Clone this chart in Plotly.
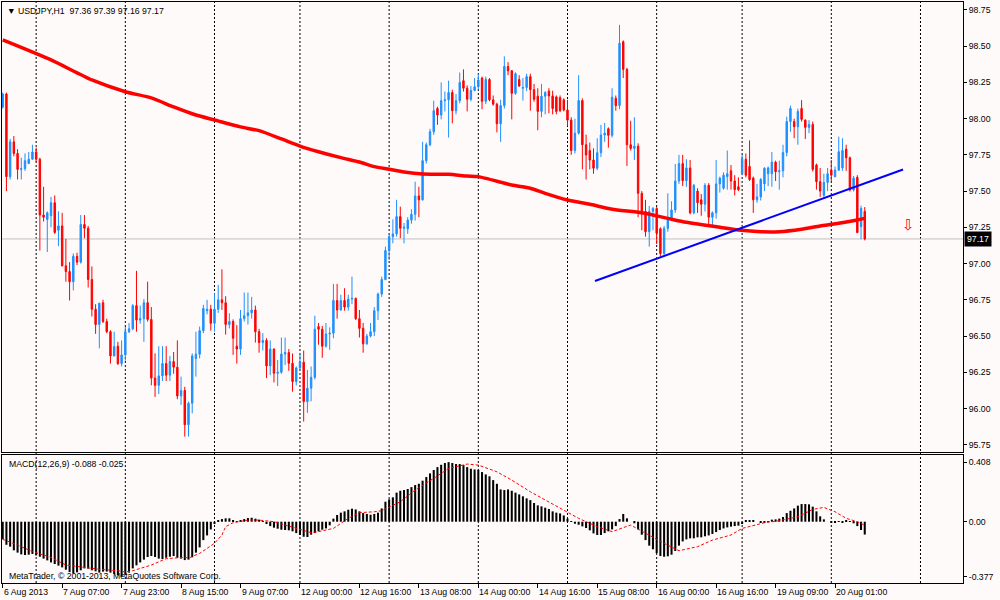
import pandas as pd
import plotly.graph_objects as go

symbol = "USDJPY,H1"
# trading sessions (start, number of hourly bars)
sessions = [("2013-08-06 15:00", 9), ("2013-08-07 00:00", 24), ("2013-08-08 00:00", 24),
            ("2013-08-09 00:00", 23), ("2013-08-12 00:00", 24), ("2013-08-13 00:00", 24),
            ("2013-08-14 00:00", 24), ("2013-08-15 00:00", 24), ("2013-08-16 00:00", 23),
            ("2013-08-19 00:00", 24), ("2013-08-20 00:00", 10)]

opens = [98.08, 98.17, 97.60, 97.84, 97.76, 97.65, 97.655, 97.69, 97.72, 97.77,
         97.72, 97.335, 97.305, 97.33, 97.42, 97.23, 97.26, 96.985, 96.945, 96.875,
         97.05, 97.01, 97.27, 97.244, 96.89, 96.685, 96.58, 96.73, 96.60, 96.53,
         96.363, 96.43, 96.31, 96.37, 96.53, 96.55, 96.71, 96.61, 96.62, 96.73,
         96.615, 96.21, 96.16, 96.225, 96.31, 96.23, 96.324, 96.285, 96.087, 96.124,
         95.888, 96.036, 96.345, 96.375, 96.537, 96.675, 96.685, 96.588, 96.685, 96.75,
         96.73, 96.58, 96.60, 96.43, 96.41, 96.62, 96.64, 96.66, 96.68, 96.53,
         96.455, 96.47, 96.294, 96.41, 96.243, 96.25, 96.376, 96.386, 96.312, 96.186,
         96.28, 96.32, 96.048, 96.14, 96.215, 96.565, 96.547, 96.43, 96.514, 96.52,
         96.745, 96.68, 96.745, 96.70, 96.755, 96.76, 96.62, 96.553, 96.446, 96.50,
         96.53, 96.675, 96.79, 96.89, 97.09, 97.186, 97.205, 97.324, 97.244, 97.24,
         97.30, 97.34, 97.467, 97.44, 97.71, 97.82, 97.91, 98.07, 98.025, 98.124,
         98.13, 98.18, 98.055, 98.124, 98.262, 98.21, 98.134, 98.195, 98.22, 98.28,
         98.12, 98.27, 98.13, 98.10, 97.965, 98.09, 98.36, 98.33, 98.175, 98.27,
         98.21, 98.215, 98.29, 98.20, 98.155, 98.05, 98.155, 98.19, 98.157, 98.15,
         98.145, 98.13, 98.06, 97.99, 97.78, 97.90, 98.125, 97.82, 97.78, 97.715,
         97.658, 97.765, 97.887, 97.93, 97.885, 98.14, 98.09, 98.53, 98.34, 97.82,
         97.795, 97.81, 97.485, 97.36, 97.22, 97.36, 97.38, 97.24, 97.07, 97.243,
         97.30, 97.37, 97.57, 97.69, 97.572, 97.66, 97.35, 97.50, 97.44, 97.41,
         97.54, 97.32, 97.35, 97.55, 97.52, 97.60, 97.64, 97.57, 97.53, 97.62,
         97.72, 97.67, 97.59, 97.44, 97.46, 97.55, 97.62, 97.62, 97.70, 97.634,
         97.64, 97.766, 97.98, 97.98, 97.945, 98.07, 97.99, 97.94, 97.96, 97.68,
         97.565, 97.47, 97.56, 97.645, 97.60, 97.645, 97.66, 97.79, 97.73, 97.508,
         97.595, 97.255, 97.36]

highs = [98.18, 98.18, 97.86, 97.88, 97.79, 97.73, 97.76, 97.77, 97.82, 97.80,
         97.73, 97.53, 97.36, 97.46, 97.47, 97.36, 97.35, 97.17, 97.01, 97.07,
         97.075, 97.335, 97.335, 97.26, 96.98, 96.72, 96.73, 96.75, 96.62, 96.54,
         96.53, 96.46, 96.47, 96.565, 96.59, 96.72, 96.95, 96.71, 96.755, 96.875,
         96.70, 96.38, 96.43, 96.43, 96.43, 96.363, 96.39, 96.47, 96.22, 96.15,
         96.048, 96.38, 96.53, 96.565, 96.715, 96.75, 96.715, 96.795, 96.853, 96.96,
         96.775, 96.657, 96.615, 96.575, 96.68, 96.80, 96.80, 96.77, 96.71, 96.55,
         96.52, 96.485, 96.47, 96.415, 96.335, 96.49, 96.49, 96.41, 96.38, 96.29,
         96.38, 96.40, 96.266, 96.29, 96.64, 96.59, 96.57, 96.59, 96.56, 96.86,
         96.86, 96.785, 96.83, 96.785, 96.91, 96.765, 96.68, 96.59, 96.515, 96.59,
         96.70, 96.80, 96.91, 97.117, 97.205, 97.305, 97.44, 97.393, 97.28, 97.32,
         97.375, 97.565, 97.53, 97.84, 97.835, 97.93, 98.124, 98.083, 98.25, 98.187,
         98.262, 98.20, 98.17, 98.318, 98.34, 98.23, 98.226, 98.28, 98.31, 98.29,
         98.29, 98.28, 98.16, 98.11, 98.13, 98.43, 98.39, 98.336, 98.32, 98.30,
         98.28, 98.31, 98.31, 98.24, 98.21, 98.24, 98.19, 98.21, 98.193, 98.16,
         98.16, 98.14, 98.13, 98.01, 98.00, 98.30, 98.14, 97.89, 97.835, 97.795,
         97.865, 97.957, 97.97, 97.94, 98.21, 98.16, 98.647, 98.54, 98.35, 97.986,
         98.01, 97.83, 97.50, 97.44, 97.398, 97.39, 97.39, 97.25, 97.26, 97.485,
         97.43, 97.687, 97.75, 97.75, 97.72, 97.715, 97.55, 97.52, 97.48, 97.555,
         97.555, 97.36, 97.715, 97.60, 97.63, 97.78, 97.68, 97.61, 97.595, 97.75,
         97.76, 97.85, 97.60, 97.55, 97.59, 97.665, 97.67, 97.77, 97.71, 97.71,
         97.82, 98.014, 98.09, 98.00, 98.07, 98.128, 97.995, 97.99, 97.98, 97.69,
         97.66, 97.62, 97.66, 97.715, 97.67, 97.876, 97.865, 97.82, 97.738, 97.605,
         97.61, 97.40, 97.39]

lows = [98.07, 97.50, 97.58, 97.74, 97.58, 97.58, 97.64, 97.69, 97.715, 97.70,
        97.09, 97.29, 97.08, 97.25, 97.205, 97.12, 96.98, 96.875, 96.745, 96.815,
        96.99, 97.00, 97.175, 96.835, 96.635, 96.515, 96.415, 96.59, 96.52, 96.31,
        96.36, 96.30, 96.29, 96.33, 96.52, 96.54, 96.53, 96.585, 96.46, 96.60,
        96.16, 96.08, 96.10, 96.19, 96.19, 96.19, 96.24, 96.064, 96.025, 95.806,
        95.806, 95.967, 96.22, 96.346, 96.52, 96.65, 96.537, 96.53, 96.66, 96.68,
        96.51, 96.553, 96.37, 96.31, 96.37, 96.60, 96.58, 96.62, 96.455, 96.385,
        96.40, 96.21, 96.23, 96.18, 96.155, 96.24, 96.30, 96.26, 96.116, 96.16,
        96.27, 95.91, 95.97, 96.05, 96.20, 96.44, 96.35, 96.42, 96.405, 96.485,
        96.62, 96.675, 96.675, 96.675, 96.72, 96.61, 96.49, 96.385, 96.44, 96.49,
        96.50, 96.61, 96.77, 96.885, 97.025, 97.14, 97.186, 97.175, 97.14, 97.205,
        97.275, 97.297, 97.32, 97.435, 97.69, 97.81, 97.888, 97.957, 97.995, 98.05,
        97.87, 97.968, 98.03, 98.106, 98.187, 98.05, 98.12, 98.19, 98.20, 98.065,
        98.10, 98.12, 98.09, 97.905, 97.84, 98.07, 98.30, 97.995, 98.164, 98.22,
        98.125, 98.19, 98.055, 98.117, 97.92, 98.01, 98.03, 98.037, 98.03, 98.03,
        98.045, 98.05, 97.95, 97.75, 97.76, 97.89, 97.65, 97.58, 97.65, 97.62,
        97.645, 97.735, 97.84, 97.80, 97.87, 98.055, 98.065, 98.28, 97.674, 97.78,
        97.715, 97.32, 97.23, 97.186, 97.117, 97.23, 97.135, 97.05, 97.053, 97.22,
        97.295, 97.35, 97.55, 97.535, 97.53, 97.34, 97.34, 97.35, 97.33, 97.36,
        97.255, 97.26, 97.31, 97.49, 97.51, 97.51, 97.51, 97.47, 97.50, 97.61,
        97.595, 97.57, 97.35, 97.42, 97.435, 97.50, 97.535, 97.53, 97.57, 97.51,
        97.595, 97.74, 97.91, 97.865, 97.82, 97.98, 97.86, 97.90, 97.635, 97.51,
        97.46, 97.46, 97.50, 97.57, 97.595, 97.64, 97.64, 97.64, 97.497, 97.497,
        97.21, 97.168, 97.16]

closes = [98.17, 97.60, 97.84, 97.76, 97.65, 97.655, 97.71, 97.72, 97.77, 97.72,
          97.335, 97.32, 97.35, 97.42, 97.215, 97.26, 96.985, 96.945, 96.875, 97.05,
          97.01, 97.27, 97.244, 96.89, 96.685, 96.58, 96.726, 96.60, 96.53, 96.363,
          96.427, 96.31, 96.37, 96.53, 96.55, 96.71, 96.61, 96.62, 96.73, 96.615,
          96.21, 96.16, 96.225, 96.31, 96.23, 96.324, 96.285, 96.087, 96.124, 95.888,
          96.036, 96.363, 96.375, 96.537, 96.69, 96.685, 96.588, 96.685, 96.75, 96.73,
          96.58, 96.60, 96.485, 96.41, 96.62, 96.64, 96.66, 96.68, 96.53, 96.455,
          96.47, 96.294, 96.41, 96.243, 96.25, 96.376, 96.386, 96.312, 96.186, 96.28,
          96.32, 96.048, 96.14, 96.215, 96.547, 96.547, 96.43, 96.514, 96.52, 96.745,
          96.68, 96.745, 96.70, 96.755, 96.76, 96.62, 96.553, 96.446, 96.50, 96.53,
          96.675, 96.79, 96.89, 97.09, 97.186, 97.205, 97.324, 97.244, 97.25, 97.30,
          97.34, 97.467, 97.44, 97.71, 97.82, 97.91, 98.055, 98.025, 98.124, 98.13,
          98.18, 98.055, 98.124, 98.25, 98.21, 98.134, 98.195, 98.22, 98.267, 98.12,
          98.27, 98.13, 98.10, 97.965, 98.09, 98.36, 98.33, 98.175, 98.31, 98.225,
          98.215, 98.29, 98.20, 98.134, 98.05, 98.155, 98.18, 98.157, 98.07, 98.05,
          98.055, 98.06, 97.99, 97.78, 97.90, 98.125, 97.82, 97.75, 97.715, 97.658,
          97.765, 97.887, 97.90, 97.885, 98.148, 98.09, 98.52, 98.34, 97.82, 97.795,
          97.81, 97.485, 97.342, 97.22, 97.36, 97.38, 97.21, 97.07, 97.243, 97.30,
          97.37, 97.57, 97.69, 97.572, 97.66, 97.35, 97.54, 97.42, 97.41, 97.54,
          97.32, 97.35, 97.55, 97.59, 97.61, 97.62, 97.57, 97.51, 97.51, 97.72,
          97.61, 97.58, 97.44, 97.46, 97.58, 97.658, 97.66, 97.70, 97.634, 97.64,
          97.766, 97.98, 98.07, 97.945, 98.05, 97.995, 97.94, 97.96, 97.65, 97.565,
          97.50, 97.56, 97.62, 97.61, 97.645, 97.772, 97.78, 97.73, 97.508, 97.59,
          97.214, 97.38, 97.17]

# moving average (vertices)
ma_idx = [0, 13, 24, 33, 40, 46, 52, 57, 64, 69, 75, 80, 85, 91, 96, 100, 104, 108, 113,
          120, 125, 128, 137, 142, 146, 152, 158, 164, 172, 179, 184, 193, 198, 204, 209,
          215, 220, 225, 230, 232]
ma_val = [98.543, 98.405, 98.267, 98.186, 98.143, 98.081, 98.025, 97.991, 97.943, 97.917,
          97.860, 97.811, 97.772, 97.731, 97.701, 97.669, 97.651, 97.632, 97.618, 97.616,
          97.604, 97.600, 97.542, 97.520, 97.485, 97.439, 97.409, 97.375, 97.351, 97.312,
          97.285, 97.250, 97.232, 97.220, 97.220, 97.237, 97.259, 97.278, 97.301, 97.312]

# trend line drawn on chart (bar index, price)
trend_idx = [159.4, 242.3]
trend_price = [96.880, 97.649]

# sell arrow object
arrow_idx = 243.7
arrow_price = 97.266

macd_main = [-0.121, -0.158, -0.171, -0.196, -0.212, -0.224, -0.228, -0.226, -0.221, -0.231,
             -0.240, -0.253, -0.265, -0.279, -0.290, -0.301, -0.313, -0.329, -0.345, -0.354,
             -0.347, -0.333, -0.320, -0.322, -0.333, -0.340, -0.349, -0.342, -0.342, -0.349,
             -0.358, -0.367, -0.377, -0.363, -0.349, -0.320, -0.299, -0.279, -0.260, -0.242,
             -0.235, -0.242, -0.253, -0.256, -0.247, -0.240, -0.235, -0.247, -0.253, -0.263,
             -0.260, -0.244, -0.212, -0.176, -0.126, -0.094, -0.053, -0.016, 0.011, 0.018,
             0.023, 0.023, 0.011, 0.002, 0.009, 0.018, 0.025, 0.027, 0.021, 0.014,
             0.002, -0.016, -0.030, -0.041, -0.048, -0.055, -0.057, -0.059, -0.066, -0.078,
             -0.091, -0.103, -0.105, -0.089, -0.078, -0.066, -0.055, -0.046, -0.025, 0.021,
             0.046, 0.062, 0.071, 0.082, 0.089, 0.084, 0.071, 0.059, 0.053, 0.048,
             0.053, 0.062, 0.091, 0.137, 0.153, 0.167, 0.199, 0.212, 0.217, 0.224,
             0.237, 0.251, 0.260, 0.281, 0.306, 0.331, 0.354, 0.374, 0.390, 0.402,
             0.408, 0.402, 0.395, 0.395, 0.388, 0.374, 0.363, 0.358, 0.356, 0.340,
             0.324, 0.311, 0.285, 0.260, 0.221, 0.217, 0.221, 0.212, 0.199, 0.187,
             0.174, 0.160, 0.148, 0.128, 0.112, 0.105, 0.096, 0.087, 0.071, 0.062,
             0.057, 0.043, 0.021, -0.002, -0.014, -0.021, -0.032, -0.043, -0.059, -0.080,
             -0.091, -0.091, -0.078, -0.066, -0.053, -0.030, 0.018, 0.053, 0.023, 0.000,
             -0.011, -0.053, -0.089, -0.126, -0.164, -0.189, -0.215, -0.235, -0.240, -0.237,
             -0.226, -0.201, -0.164, -0.135, -0.121, -0.114, -0.114, -0.107, -0.107, -0.100,
             -0.094, -0.084, -0.071, -0.057, -0.046, -0.039, -0.034, -0.030, -0.027, -0.016,
             0.005, 0.009, 0.005, 0.000, -0.007, -0.005, 0.002, 0.014, 0.016, 0.021,
             0.032, 0.059, 0.075, 0.091, 0.110, 0.121, 0.121, 0.119, 0.103, 0.071,
             0.037, 0.016, 0.000, -0.007, -0.005, -0.002, -0.005, 0.005, 0.002, -0.011,
             -0.030, -0.057, -0.088]

signal_idx = [0, 4, 8, 13, 17, 22, 26, 31, 33, 35, 40, 44, 49, 50, 53, 57, 59, 60, 62, 66,
              69, 73, 76, 80, 83, 85, 89, 93, 96, 100, 102, 107, 111, 116, 120, 125, 128,
              133, 137, 142, 146, 151, 155, 160, 164, 169, 173, 178, 182, 187, 191, 196,
              199, 205, 209, 214, 218, 221, 224, 227, 230, 232]
signal_val = [-0.121, -0.160, -0.205, -0.244, -0.297, -0.313, -0.326, -0.336, -0.345, -0.336,
              -0.297, -0.253, -0.244, -0.249, -0.217, -0.148, -0.091, -0.034, -0.007, 0.011,
              0.011, 0.000, -0.023, -0.057, -0.075, -0.068, -0.046, 0.023, 0.062, 0.068,
              0.075, 0.137, 0.217, 0.297, 0.365, 0.395, 0.388, 0.342, 0.285, 0.205,
              0.148, 0.080, 0.023, -0.034, -0.068, -0.023, -0.080, -0.148, -0.199, -0.171,
              -0.126, -0.091, -0.046, -0.007, 0.007, 0.034, 0.084, 0.098, 0.068, 0.023,
              0.000, -0.025]

# ---------------------------------------------------------------
times = []
for start, n in sessions:
    times.extend(pd.date_range(start, periods=n, freq="h"))
n_bars = len(times)
assert n_bars == len(opens) == len(highs) == len(lows) == len(closes) == len(macd_main)
idx = list(range(n_bars))

FONT = "Liberation Sans, Arial, sans-serif"
BG = "#FFFAFA"

# day boundaries (midnight bars) and one future day
day_idx = [i for i, t in enumerate(times) if t.hour == 0 and i > 0]
day_idx.append(day_idx[-1] + 24)

label_idx = list(range(0, n_bars, 16))
label_txt = []
for k, i in enumerate(label_idx):
    t = times[i]
    if k == 0:
        label_txt.append(f"{t.day} {t.strftime('%b %Y')}")
    else:
        label_txt.append(f"{t.day} {t.strftime('%b %H:%M')}")

fig = go.Figure()
fig.add_trace(go.Candlestick(
    x=idx, open=opens, high=highs, low=lows, close=closes,
    increasing=dict(line=dict(color="#1E90FF", width=1), fillcolor="#1E90FF"),
    decreasing=dict(line=dict(color="#FF0000", width=1), fillcolor="#FF0000"),
    whiskerwidth=0, xaxis="x", yaxis="y", hoverinfo="skip"))
fig.add_trace(go.Scatter(x=ma_idx, y=ma_val, mode="lines",
                         line=dict(color="#FF0000", width=3.5, shape="spline", smoothing=0.6),
                         xaxis="x", yaxis="y"))
fig.add_trace(go.Scatter(x=trend_idx, y=trend_price, mode="lines",
                         line=dict(color="#0000FF", width=2), xaxis="x", yaxis="y"))
fig.add_trace(go.Bar(x=idx, y=macd_main, marker=dict(color="black", line=dict(width=0)),
                     xaxis="x2", yaxis="y2"))
fig.add_trace(go.Scatter(x=signal_idx, y=signal_val, mode="lines",
                         line=dict(color="#FF0000", width=1, dash="3px,2px"),
                         xaxis="x2", yaxis="y2"))

x_range = [-0.19, 258.44]
main_dom = [0.2255, 1.0]
macd_dom = [0.0, 0.2203]

shapes = []
for d in day_idx:
    shapes.append(dict(type="line", xref="x", yref="paper", x0=d, x1=d, y0=0, y1=1,
                       line=dict(color="black", width=1, dash="2px,2px"), layer="below"))
shapes.append(dict(type="line", xref="paper", yref="y", x0=0, x1=1, y0=closes[-1], y1=closes[-1],
                   line=dict(color="#C0C0C0", width=1), layer="below"))

annotations = []
for i, txt in zip(label_idx, label_txt):
    annotations.append(dict(x=i, y=0, xref="x2", yref="paper", text=txt, showarrow=False,
                            xanchor="left", yanchor="top", xshift=-1, yshift=-2,
                            font=dict(family=FONT, size=8.7, color="black")))
annotations.append(dict(x=0, y=1, xref="paper", yref="paper", xanchor="left", yanchor="top",
                        xshift=3, yshift=-2, showarrow=False,
                        text=f"▼ {symbol}  {opens[-1]:.2f} {highs[-1]:.2f} {lows[-1]:.2f} {closes[-1]:.2f}",
                        font=dict(family=FONT, size=8.7, color="black")))
annotations.append(dict(x=0, y=macd_dom[1], xref="paper", yref="paper", xanchor="left", yanchor="top",
                        xshift=5, yshift=-2, showarrow=False,
                        text=f"MACD(12,26,9) {macd_main[-1]:.3f} {signal_val[-1]:.3f}",
                        font=dict(family=FONT, size=8.7, color="black")))
annotations.append(dict(x=0, y=0, xref="paper", yref="paper", xanchor="left", yanchor="bottom",
                        xshift=5, yshift=0, showarrow=False,
                        text="MetaTrader, © 2001-2013, MetaQuotes Software Corp.",
                        font=dict(family=FONT, size=8.7, color="black")))
annotations.append(dict(x=arrow_idx, y=arrow_price, xref="x", yref="y", showarrow=False,
                        text="⇩", font=dict(family="DejaVu Sans", size=15, color="#FF0000")))
annotations.append(dict(x=1, y=closes[-1], xref="paper", yref="y", xanchor="left", yanchor="middle",
                        xshift=1, showarrow=False, text=f"{closes[-1]:.2f}", bgcolor="black",
                        borderpad=2, font=dict(family=FONT, size=8.7, color="white")))

m_max, m_min = max(macd_main), min(macd_main)

axis_common = dict(showgrid=False, zeroline=False, showline=True, mirror=True,
                   linecolor="black", linewidth=1)

fig.update_layout(
    width=1000, height=600,
    margin=dict(l=2, r=37, t=2, b=17),
    paper_bgcolor=BG, plot_bgcolor=BG,
    showlegend=False, boxgap=0.45, bargap=0.45,
    font=dict(family=FONT, size=8.7, color="black"),
    xaxis=dict(domain=[0, 1], range=x_range, anchor="y", showticklabels=False, ticks="",
               rangeslider=dict(visible=False), **axis_common),
    xaxis2=dict(domain=[0, 1], range=x_range, anchor="y2", matches="x", showticklabels=False,
                ticks="outside", ticklen=4, tickcolor="black", tickvals=label_idx, **axis_common),
    yaxis=dict(domain=main_dom, range=[95.700, 98.805], side="right", anchor="x",
               tick0=95.75, dtick=0.25, tickformat=".2f", ticks="outside", ticklen=3,
               tickcolor="black", tickfont=dict(family=FONT, size=8.7), **axis_common),
    yaxis2=dict(domain=macd_dom, range=[-0.420, 0.457], side="right", anchor="x2",
                tickvals=[m_max, 0, m_min], ticktext=[f"{m_max:.3f}", "0.00", f"{m_min:.3f}"],
                ticks="outside", ticklen=3, tickcolor="black",
                tickfont=dict(family=FONT, size=8.7), **axis_common),
    shapes=shapes, annotations=annotations,
)

fig.write_html("out.html", config={"displayModeBar": False},
               post_script="document.body.style.margin='0';document.body.style.overflow='hidden';")
